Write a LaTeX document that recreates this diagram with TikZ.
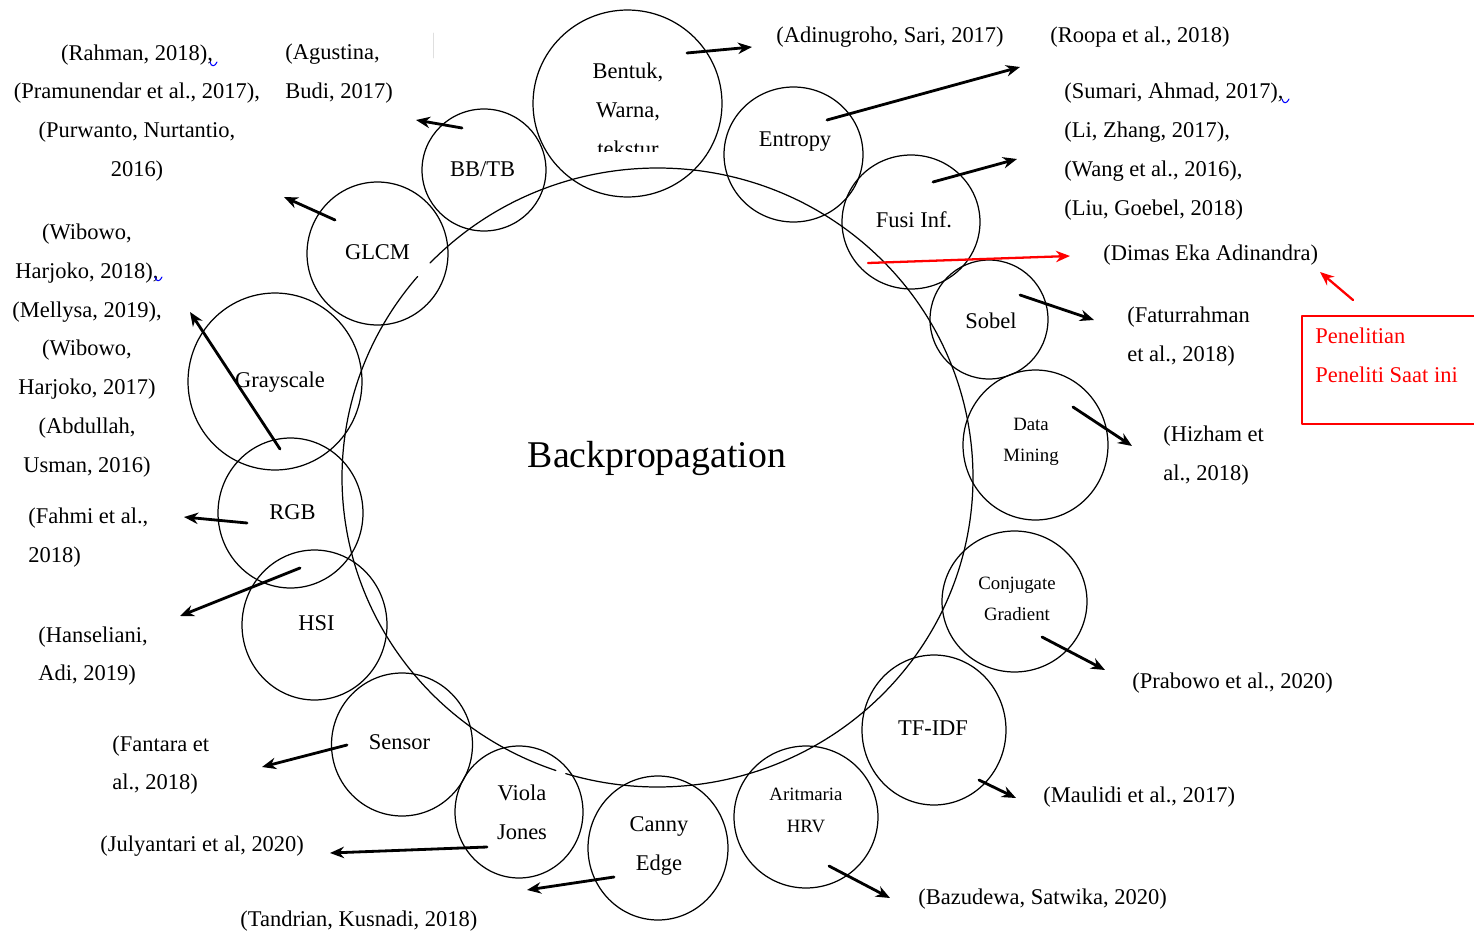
\documentclass[tikz,border=0pt]{standalone}
\usepackage{fontspec}
\setmainfont{Liberation Serif}
\usetikzlibrary{calc,shapes.geometric,arrows.meta}
\tikzset{
  bub/.style 2 args={draw,ellipse,line width=0.7pt,minimum width=#1,minimum height=#2,inner sep=0pt},
  lbl/.style={inner sep=0pt,font=\fontsize{12.8}{22.2}\selectfont},
  lbls/.style={inner sep=0pt,align=center,font=\fontsize{10.7}{18}\selectfont},
  ref/.style={inner sep=0pt,font=\fontsize{12.8}{22.1}\selectfont},
  arr/.style={->,line width=1.6pt},
  arrm/.style={->,red,line width=1.3pt},
}
\begin{document}
\begin{tikzpicture}[x=0.02cm,y=-0.02cm,line join=round,line cap=round,>={Stealth[length=8pt,width=6.5pt]}]
	\useasboundingbox (0,0) rectangle (1474,936);
	% Lingkaran besar
	\coordinate (C) at (657.5,477.5);
	\draw[line width=0.7pt] ($(C)+(223.9:315.5 and 309.5)$) arc[start angle=223.9,end angle=466.9,x radius=315.5,y radius=309.5];
	\draw[line width=0.7pt] ($(C)+(108.8:315.5 and 309.5)$) arc[start angle=108.8,end angle=220.5,x radius=315.5,y radius=309.5];
	\node[inner sep=0pt,font=\fontsize{21.5}{24}\selectfont] (bp) at (657,458) {Backpropagation};
	% Lingkaran kecil
	\node[bub={3.78cm}{3.74cm}] (bentuk) at (627.5,103.5) {};
	\begin{scope}
		\clip (520,0) rectangle (740,151);
		\node[lbl,align=center] (bentukT) at (628,110) {Bentuk,\\Warna,\\tekstur};
	\end{scope}
	\node[bub={2.78cm}{2.70cm}] (entropy) at (793.5,154.5) {};
	\node[lbl] (entropyT) at (795,142) {Entropy};
	\node[bub={2.76cm}{2.68cm}] (fusi) at (911,222) {};
	\node[lbl] (fusiT) at (914,220) {Fusi Inf.};
	\node[bub={2.36cm}{2.38cm}] (sobel) at (989,319.5) {};
	\node[lbl] (sobelT) at (991,321) {Sobel};
	\node[bub={2.90cm}{3.00cm}] (dm) at (1035.5,445) {};
	\node[lbls] (dmT) at (1031,442) {Data\\Mining};
	\node[bub={2.90cm}{2.82cm}] (cg) at (1014.5,601.5) {};
	\node[lbls] (cgT) at (1017,599) {Conjugate\\Gradient};
	\node[bub={2.88cm}{3.00cm}] (tfidf) at (934,730) {};
	\node[lbl] (tfidfT) at (933,728) {TF-IDF};
	\node[bub={2.88cm}{2.84cm}] (hrv) at (806,817) {};
	\node[lbls] (hrvT) at (806,810.5) {Aritmaria\\HRV};
	\node[bub={2.80cm}{2.88cm}] (canny) at (658,848) {};
	\node[lbl,align=center] (cannyT) at (659,845.5) {Canny\\Edge};
	\node[bub={2.56cm}{2.64cm}] (viola) at (519,812) {};
	\node[lbl,align=center] (violaT) at (522,812) {Viola\\Jones};
	\node[bub={2.82cm}{2.86cm}] (sensor) at (402,744.5) {};
	\node[lbl] (sensorT) at (399.5,742) {Sensor};
	\node[bub={2.90cm}{3.00cm}] (hsi) at (314.5,625) {};
	\node[lbl] (hsiT) at (316.5,623) {HSI};
	\node[bub={2.90cm}{3.00cm}] (rgb) at (290.5,513) {};
	\node[lbl] (rgbT) at (292.5,512) {RGB};
	\node[bub={3.48cm}{3.54cm}] (gray) at (275,381.5) {};
	\node[lbl] (grayT) at (280,382) {Grayscale};
	\node[bub={2.82cm}{2.86cm}] (glcm) at (377.5,253.5) {};
	\node[lbl] (glcmT) at (377.5,252) {GLCM};
	\node[bub={2.48cm}{2.44cm}] (bbtb) at (484,170) {};
	\node[lbl] (bbtbT) at (482.5,169) {BB/TB};
	% Referensi
	\node[ref,align=center] (rahman) at (137,113) {(Rahman, 2018),\\(Pramunendar et al., 2017),\\(Purwanto, Nurtantio,\\2016)};
	\node[ref,align=left,anchor=west] (agustina) at (285,74) {(Agustina,\\Budi, 2017)};
	\node[ref,anchor=west] (adinugroho) at (776,37) {(Adinugroho, Sari, 2017)};
	\node[ref,anchor=west] (roopa) at (1050,37) {(Roopa et al., 2018)};
	\node[ref,align=left,anchor=west] (sumari) at (1064,151.5) {(Sumari, Ahmad, 2017),\\(Li, Zhang, 2017),\\(Wang et al., 2016),\\(Liu, Goebel, 2018)};
	\node[ref,anchor=west] (dimas) at (1103,255) {(Dimas Eka Adinandra)};
	\node[ref,align=left,anchor=west] (faturrahman) at (1127,336.5) {(Faturrahman\\et al., 2018)};
	\node[ref,align=left,anchor=west] (hizham) at (1163,456) {(Hizham et\\al., 2018)};
	\node[ref,anchor=west] (prabowo) at (1132,683) {(Prabowo et al., 2020)};
	\node[ref,anchor=west] (maulidi) at (1043,797) {(Maulidi et al., 2017)};
	\node[ref,anchor=west] (bazudewa) at (918,899) {(Bazudewa, Satwika, 2020)};
	\node[ref,anchor=west] (tandrian) at (240,921) {(Tandrian, Kusnadi, 2018)};
	\node[ref,anchor=west] (julyantari) at (100,846) {(Julyantari et al, 2020)};
	\node[ref,align=left,anchor=west] (fantara) at (112,765) {(Fantara et\\al., 2018)};
	\node[ref,align=left,anchor=west] (hanseliani) at (38,656) {(Hanseliani,\\Adi, 2019)};
	\node[ref,align=left,anchor=west] (fahmi) at (28,537.5) {(Fahmi et al.,\\2018)};
	\node[ref,align=center] (wibowo) at (87,350.5) {(Wibowo,\\Harjoko, 2018),\\(Mellysa, 2019),\\(Wibowo,\\Harjoko, 2017)\\(Abdullah,\\Usman, 2016)};
	\node[ref,align=left,anchor=west,red] (peneliti) at (1315,355.5) {Penelitian\\Peneliti Saat ini};
	% Panah
	\coordinate (be1) at (687,53);   \coordinate (be2) at (752,47);
	\coordinate (en1) at (827,120);  \coordinate (en2) at (1020,67);
	\coordinate (fu1) at (933,182);  \coordinate (fu2) at (1017,159);
	\coordinate (so1) at (1020,295); \coordinate (so2) at (1094,320);
	\coordinate (dm1) at (1073,407); \coordinate (dm2) at (1132,446);
	\coordinate (cg1) at (1042,637); \coordinate (cg2) at (1105,670);
	\coordinate (tf1) at (979,780);  \coordinate (tf2) at (1016,798);
	\coordinate (hr1) at (829,866);  \coordinate (hr2) at (890,898);
	\coordinate (ca1) at (614,877);  \coordinate (ca2) at (527,890);
	\coordinate (vj1) at (487,847);  \coordinate (vj2) at (330,853);
	\coordinate (se1) at (347,745);  \coordinate (se2) at (262,767);
	\coordinate (hs1) at (300,568);  \coordinate (hs2) at (180,616);
	\coordinate (rg1) at (247,523);  \coordinate (rg2) at (184,517);
	\coordinate (gr1) at (280,449);  \coordinate (gr2) at (190,312);
	\coordinate (gl1) at (335,220);  \coordinate (gl2) at (284,197);
	\coordinate (bb1) at (462,128);  \coordinate (bb2) at (416,120);
	\foreach \p in {be,en,fu,so,dm,cg,tf,hr,ca,vj,se,hs,rg,gr,gl,bb}
		\draw[arr] (\p1)--(\p2);
	% Penelitian saat ini
	\coordinate (rd1) at (868,263);  \coordinate (rd2) at (1070,256);
	\coordinate (rd3) at (1353,300); \coordinate (rd4) at (1320,272);
	\draw[arrm] (rd1)--(rd2);
	\draw[arrm] (rd3)--(rd4);
	\draw[red,line width=1pt] (1476,316) -| (1302,424) -- (1476,424);
	% tanda kecil
	\draw[blue,line width=0.6pt] (210,62) .. controls (211,67) and (215,67) .. (217,62);
	\draw[blue,line width=0.6pt] (155,277) .. controls (156,282) and (160,282) .. (162,277);
	\draw[blue,line width=0.6pt] (1282,99) .. controls (1283,104) and (1287,104) .. (1289,99);
	\draw[gray!25,line width=0.5pt] (433,33)--(433,58);
\end{tikzpicture}
\end{document}
